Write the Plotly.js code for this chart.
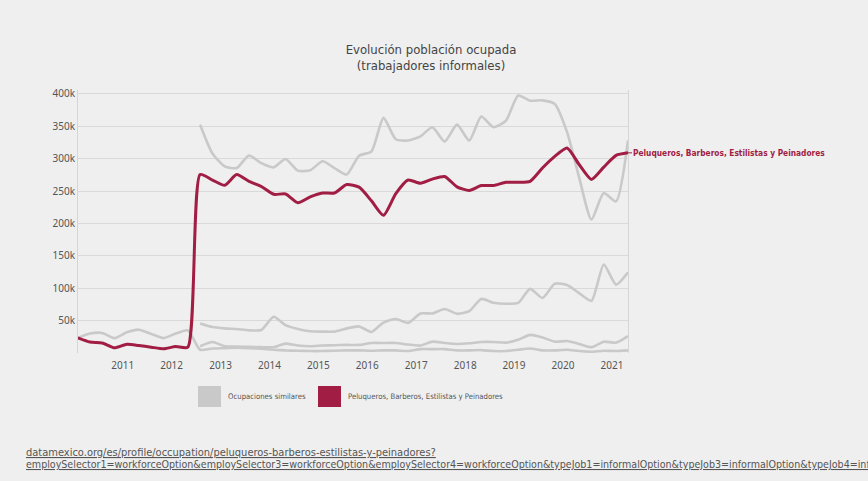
<!DOCTYPE html>
<html>
<head>
<meta charset="utf-8">
<script src="https://cdn.plot.ly/plotly-3.0.1.min.js"></script>
<style>
  html, body { margin: 0; padding: 0; background: #efefef; }
  #chart { width: 868px; height: 481px; }
</style>
</head>
<body>
<div id="chart"></div>
<script>
// Quarterly periods, 2010-Q1 .. 2021-Q2
const quarters = [
  "2010-Q1","2010-Q2","2010-Q3","2010-Q4",
  "2011-Q1","2011-Q2","2011-Q3","2011-Q4",
  "2012-Q1","2012-Q2","2012-Q3","2012-Q4",
  "2013-Q1","2013-Q2","2013-Q3","2013-Q4",
  "2014-Q1","2014-Q2","2014-Q3","2014-Q4",
  "2015-Q1","2015-Q2","2015-Q3","2015-Q4",
  "2016-Q1","2016-Q2","2016-Q3","2016-Q4",
  "2017-Q1","2017-Q2","2017-Q3","2017-Q4",
  "2018-Q1","2018-Q2","2018-Q3","2018-Q4",
  "2019-Q1","2019-Q2","2019-Q3","2019-Q4",
  "2020-Q1","2020-Q2","2020-Q3","2020-Q4",
  "2021-Q1","2021-Q2"
];

// Informal workers: Peluqueros, Barberos, Estilistas y Peinadores
const peluqueros = [
  23500, 17000, 15500, 8000,
  13500, 11500, 9000, 6500,
  10000, 9000, 275500, 267000,
  259000, 275500, 265000, 257000,
  245000, 245500, 232000, 241000,
  247000, 247000, 260000, 256000,
  235000, 212500, 246000, 267000,
  262000, 268500, 272500, 256500,
  251000, 258500, 258500, 263500,
  263500, 265000, 285500, 303500,
  316500, 291000, 268000, 287000,
  305000, 309000
];

// Similar occupations (informal workers)
const similarA = [
  null, null, null, null,
  null, null, null, null,
  null, null, 352500, 308000,
  288000, 285500, 305000, 293000,
  286500, 299500, 281500, 282000,
  296000, 285500, 275500, 304500,
  311000, 363000, 330000, 328000,
  334500, 348500, 326500, 352500,
  328000, 365000, 348500, 358500,
  397500, 389500, 390000, 384500,
  341000, 271000, 206000, 247000,
  234000, 328000
];
const similarB = [
  null, null, null, null,
  null, null, null, null,
  null, null, 45500, 40000,
  38000, 37000, 35000, 35500,
  56000, 43000, 37000, 33500,
  33000, 33000, 38000, 41000,
  32500, 47000, 52500, 46500,
  61000, 61000, 68000, 60500,
  64500, 83500, 77500, 76000,
  77500, 99000, 85000, 107000,
  105000, 92500, 80500, 136500,
  105500, 124500
];
const similarC = [
  null, null, null, null,
  null, null, null, null,
  null, null, 10500, 17000,
  10500, 10000, 9500, 9000,
  9000, 14500, 11500, 10500,
  11500, 12000, 12500, 12500,
  15500, 15500, 15500, 13000,
  11500, 17500, 15500, 14000,
  15000, 17000, 17000, 16000,
  20500, 28000, 24000, 17500,
  18500, 14000, 9000, 17500,
  16000, 26000
];
const similarD = [
  23500, 30000, 31000, 23000,
  32000, 36000, 29500, 23000,
  30000, 35000, 5000, 7000,
  7500, 8000, 7500, 6500,
  5000, 4000, 3500, 3000,
  3000, 3500, 4000, 4000,
  3500, 4000, 4000, 3000,
  6000, 6000, 6000, 4000,
  4000, 4500, 3000, 3000,
  5000, 7000, 4000, 4000,
  5000, 3000, 2000, 3500,
  3000, 4000
];
const similarSeries = [similarA, similarB, similarC, similarD];

// Axis ticks
const yearTicks = ["2011","2012","2013","2014","2015","2016","2017","2018","2019","2020","2021"];
const yTickVals = [50000, 100000, 150000, 200000, 250000, 300000, 350000, 400000];
const yTickText = ["50k","100k","150k","200k","250k","300k","350k","400k"];

// Text
const titleText = "Evolución población ocupada<br>(trabajadores informales)";
const mainName = "Peluqueros, Barberos, Estilistas y Peinadores";
const similarName = "Ocupaciones similares";
const sourceLine1 = "datamexico.org/es/profile/occupation/peluqueros-barberos-estilistas-y-peinadores?";
const sourceLine2 = "employSelector1=workforceOption&amp;employSelector3=workforceOption&amp;employSelector4=workforceOption&amp;typeJob1=informalOption&amp;typeJob3=informalOption&amp;typeJob4=informalOption";

// Each quarter is placed on the first day of its middle month
function quarterDate(q) {
  const year = q.slice(0, 4);
  const n = parseInt(q.slice(6), 10);
  const month = String((n - 1) * 3 + 2).padStart(2, "0");
  return year + "-" + month + "-01";
}
const dates = quarters.map(quarterDate);

const RED = "#a11d44";
const GREY = "#c9c9c9";
const NARROW = '"Liberation Sans Narrow", "DejaVu Sans Condensed", "Arial Narrow", sans-serif';
const SANS = '"Noto Sans", "Open Sans", sans-serif';

const W = 868, H = 481;
const M = { l: 78, r: 240, t: 90, b: 128 };
const PW = W - M.l - M.r, PH = H - M.t - M.b;
const px = x => (x - M.l) / PW;           // page x -> paper x
const py = y => (H - M.b - y) / PH;        // page y -> paper y

const lineStyle = (color, width) => ({ color: color, width: width, shape: "spline", smoothing: 0.6 });

const traces = similarSeries.map(vals => ({
  type: "scatter", mode: "lines", x: dates, y: vals,
  line: lineStyle(GREY, 2.6), hoverinfo: "skip", showlegend: false
}));
traces.push({
  type: "scatter", mode: "lines", x: dates, y: peluqueros,
  line: lineStyle(RED, 3), hoverinfo: "skip", showlegend: false
});

const legendFont = { family: NARROW, size: 7.7, color: "#555" };

const layout = {
  width: W, height: H,
  margin: M,
  paper_bgcolor: "#efefef",
  plot_bgcolor: "#efefef",
  showlegend: false,
  title: {
    text: titleText,
    x: 431 / W, xref: "container", xanchor: "center",
    y: 1 - 53.5 / H, yref: "container", yanchor: "middle",
    font: { family: NARROW, size: 13, color: "#444" }
  },
  xaxis: {
    type: "date",
    range: [dates[0], dates[dates.length - 1]],
    tickvals: yearTicks.map(y => y + "-01-01"),
    ticktext: yearTicks,
    showgrid: false, zeroline: false, showline: false, ticks: "",
    ticklabelstandoff: 5,
    tickfont: { family: SANS, size: 10, color: "#555" }
  },
  yaxis: {
    range: [0, 406000],
    tickvals: yTickVals, ticktext: yTickText,
    showgrid: true, gridcolor: "#d9d9d9", gridwidth: 1,
    zeroline: false, showline: true, mirror: true, linecolor: "#d6d6d6", linewidth: 1,
    ticks: "",
    tickfont: { family: SANS, size: 10, color: "#555" }
  },
  shapes: [
    { type: "rect", xref: "paper", yref: "paper",
      x0: px(198), x1: px(221), y0: py(407), y1: py(386),
      fillcolor: GREY, line: { width: 0 } },
    { type: "rect", xref: "paper", yref: "paper",
      x0: px(318), x1: px(341), y0: py(407), y1: py(386),
      fillcolor: RED, line: { width: 0 } }
  ],
  annotations: [
    { xref: "paper", yref: "paper", x: px(226), y: py(396.5), xanchor: "left", yanchor: "middle",
      text: similarName, showarrow: false, font: legendFont },
    { xref: "paper", yref: "paper", x: px(346), y: py(396.5), xanchor: "left", yanchor: "middle",
      text: mainName, showarrow: false, font: legendFont },
    { x: dates[dates.length - 1], y: peluqueros[peluqueros.length - 1],
      xref: "x", yref: "y", text: "<b>" + mainName + "</b>",
      showarrow: true, arrowhead: 0, arrowwidth: 1, arrowcolor: RED,
      ax: 4, ay: 0, xanchor: "left", yanchor: "middle", borderpad: 0,
      font: { family: NARROW, size: 8.3, color: RED } },
    { xref: "paper", yref: "paper", x: px(24), y: py(452), xanchor: "left", yanchor: "middle",
      text: "<u>" + sourceLine1 + "</u>", showarrow: false,
      font: { family: NARROW, size: 11, color: "#555" } },
    { xref: "paper", yref: "paper", x: px(24), y: py(464), xanchor: "left", yanchor: "middle",
      text: "<u>" + sourceLine2 + "</u>", showarrow: false,
      font: { family: NARROW, size: 10.6, color: "#555" } }
  ]
};

Plotly.newPlot("chart", traces, layout, { staticPlot: true, displayModeBar: false });
</script>
</body>
</html>
